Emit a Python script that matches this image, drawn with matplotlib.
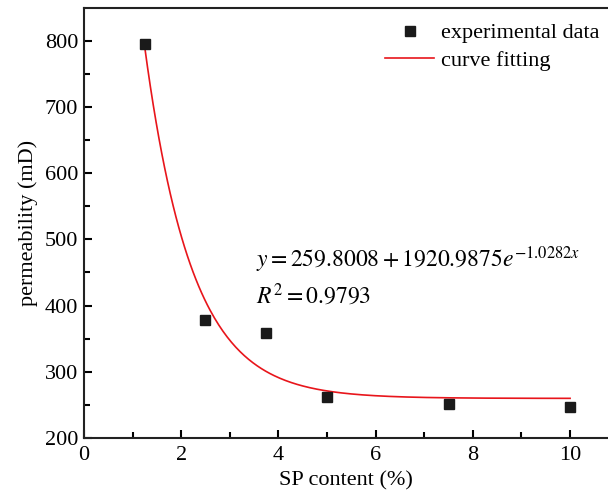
import numpy as np
import matplotlib
matplotlib.use('Agg')
import matplotlib.pyplot as plt
from matplotlib.ticker import MultipleLocator

plt.rcParams['font.family'] = ['Liberation Serif', 'DejaVu Serif']
plt.rcParams['mathtext.fontset'] = 'stix'

# experimental data
sp_content = [1.25, 2.5, 3.75, 5.0, 7.5, 10.0]
permeability = [795, 378, 359, 262, 252, 247]

# fitted model: y = A + B * exp(C * x)
FIT_A = 259.8008
FIT_B = 1920.9875
FIT_C = -1.0282

fig = plt.figure(figsize=(6.08, 4.94), dpi=100)
ax = fig.add_axes([0.138, 0.1134, 0.862, 0.8704])

xf = np.linspace(sp_content[0], sp_content[-1], 300)
yf = FIT_A + FIT_B * np.exp(FIT_C * xf)

ax.plot(sp_content, permeability, 's', color='#1a1a1a', ms=6.5, label='experimental data', zorder=3)
ax.plot(xf, yf, '-', color='#e8151b', lw=1.2, label='curve fitting', zorder=2)

ax.set_xlim(0, 10.78)
ax.set_ylim(200, 849.5)
ax.xaxis.set_major_locator(MultipleLocator(2))
ax.xaxis.set_minor_locator(MultipleLocator(1))
ax.yaxis.set_major_locator(MultipleLocator(100))
ax.yaxis.set_minor_locator(MultipleLocator(50))
ax.tick_params(which='both', direction='in', top=False, right=False, labelsize=16, width=1.5)
ax.tick_params(which='major', length=6, pad=4)
ax.tick_params(axis='x', which='major', pad=6)
ax.tick_params(which='minor', length=4)
ax.spines['right'].set_visible(False)
for s in ('left', 'bottom', 'top'):
    ax.spines[s].set_linewidth(1.5)
    ax.spines[s].set_color('#222222')

ax.set_xlabel('SP content (%)', fontsize=16, labelpad=4)
ax.set_ylabel('permeability (mD)', fontsize=16, labelpad=5)

ax.text(3.55, 458, r'$y = 259.8008 + 1920.9875e^{-1.0282x}$', fontsize=17, ha='left', va='baseline')
ax.text(3.55, 402, r'$R^2 = 0.9793$', fontsize=17, ha='left', va='baseline')

leg = ax.legend(loc='upper right', frameon=False, fontsize=16, handlelength=2.2,
                borderaxespad=0.0, labelspacing=0.3, handletextpad=0.3,
                bbox_to_anchor=(1.0, 0.986))

fig.savefig('out.png', dpi=100)
